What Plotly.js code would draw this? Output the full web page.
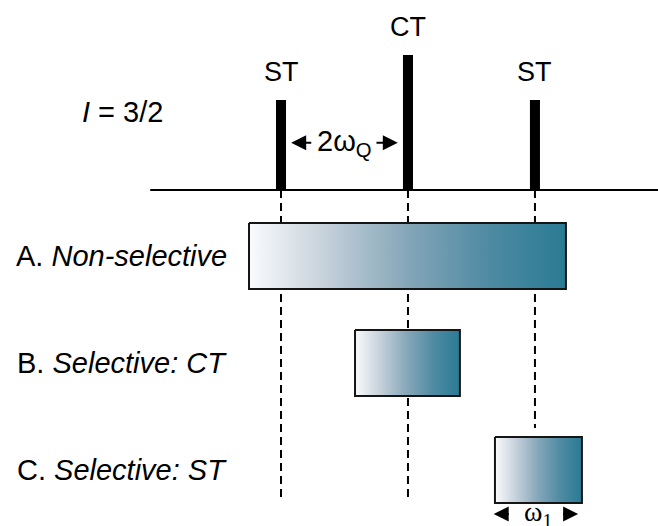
<!DOCTYPE html>
<html>
<head>
<meta charset="utf-8">
<script src="https://cdn.plot.ly/plotly-3.0.1.min.js"></script>
<style>html,body{margin:0;padding:0;background:#fff;}#chart{width:658px;height:526px;}</style>
</head>
<body>
<div id="chart"></div>
<script>
// Spectrum of a spin I = 3/2 nucleus (x in units of 2ωQ offset from the CT)
const peakLabels = ['ST', 'CT', 'ST'];
const peakOffsets = [-1, 0, 1];
const peakIntensity = [0.667, 1, 0.667];
const spectrumSpan = [-2.03, 1.97];

// Excitation bandwidth of each pulse type
const pulseNames = ['A. <i>Non-selective</i>', 'B. <i>Selective: CT</i>', 'C. <i>Selective: ST</i>'];
const pulseStart = [-1.252, -0.417, 0.685];
const pulseEnd = [1.244, 0.409, 1.370];
const pulseTop = [-0.244, -1.037, -1.830];
const pulseBottom = [-0.733, -1.526, -2.319];

// How far each dashed guide line reaches down
const guideEnd = [-2.274, -2.274, -1.763];

const spinLabel = '<i>I</i> = 3/2';
const quadLabel = '2ω<sub>Q</sub>';
const rfLabel = 'ω<sub>1</sub>';

const FONT = 'Liberation Sans, Arial, sans-serif';
const gradient = [[0, '#fafbfd'], [0.25, '#c3cfd9'], [0.5, '#85a6b8'], [0.75, '#4f8ba3'], [1, '#2a7a94']];

const traces = [];

// peaks
traces.push({
  type: 'bar', x: peakOffsets, y: peakIntensity, base: 0, width: 0.079,
  marker: {color: '#000', line: {width: 0}}, hoverinfo: 'skip'
});

// baseline
traces.push({
  type: 'scatter', mode: 'lines', x: spectrumSpan, y: [0, 0],
  line: {color: '#000', width: 2}, hoverinfo: 'skip'
});

// dashed guide lines
peakOffsets.forEach((p, i) => {
  traces.push({
    type: 'scatter', mode: 'lines', x: [p, p], y: [0, guideEnd[i]],
    line: {color: '#000', width: 2, dash: '8px,5px'}, hoverinfo: 'skip'
  });
});

// pulse excitation boxes
pulseNames.forEach((n, i) => {
  const x0 = pulseStart[i], x1 = pulseEnd[i], t = pulseTop[i], b = pulseBottom[i];
  traces.push({
    type: 'scatter', mode: 'lines', fill: 'toself',
    x: [x0, x1, x1, x0, x0], y: [t, t, b, b, t],
    fillgradient: {type: 'horizontal', colorscale: gradient, start: x0, stop: x1},
    line: {color: '#151515', width: 2}, hoverinfo: 'skip'
  });
});

const annotations = [];
// peak labels
peakOffsets.forEach((p, i) => {
  annotations.push({
    x: p, y: peakIntensity[i], yshift: 11, xanchor: 'center', yanchor: 'bottom',
    text: peakLabels[i], showarrow: false, font: {family: FONT, size: 27, color: '#000'}
  });
});
// row labels
pulseNames.forEach((n, i) => {
  annotations.push({
    x: pulseStart[0], xshift: -20, y: (pulseTop[i] + pulseBottom[i]) / 2,
    xanchor: 'right', yanchor: 'middle', text: n, showarrow: false,
    font: {family: FONT, size: 29, color: '#000'}
  });
});
// spin label
annotations.push({
  xref: 'paper', yref: 'paper', x: 0.186, y: 0.787, xanchor: 'center', yanchor: 'middle',
  text: spinLabel, showarrow: false, font: {family: FONT, size: 29, color: '#000'}
});
// 2ωQ label with arrows
const qy = 0.35;
annotations.push({
  x: (peakOffsets[0] + peakOffsets[1]) / 2, y: qy, xanchor: 'center', yanchor: 'middle',
  text: quadLabel, showarrow: false, font: {family: FONT, size: 29, color: '#000'}
});
const arrowStyle = {axref: 'x', ayref: 'y', text: '', showarrow: true,
  arrowhead: 2, arrowsize: 1.5, arrowwidth: 2, arrowcolor: '#000', standoff: 0, startstandoff: 0};
annotations.push(Object.assign({x: -0.92, y: qy, ax: -0.75, ay: qy}, arrowStyle));
annotations.push(Object.assign({x: -0.08, y: qy, ax: -0.26, ay: qy}, arrowStyle));
// ω1 label with arrows
const ry = -2.40;
const cC = (pulseStart[2] + pulseEnd[2]) / 2;
annotations.push({
  x: cC, y: ry, xanchor: 'center', yanchor: 'middle',
  text: rfLabel, showarrow: false, font: {family: 'Liberation Serif, Times New Roman, serif', size: 28, color: '#000'}
});
annotations.push(Object.assign({x: pulseStart[2] - 0.01, y: ry, ax: pulseStart[2] + 0.12}, arrowStyle, {ay: ry}));
annotations.push(Object.assign({x: pulseEnd[2] - 0.03, y: ry, ax: pulseEnd[2] - 0.16}, arrowStyle, {ay: ry}));

const layout = {
  width: 658, height: 526,
  margin: {l: 0, r: 0, t: 0, b: 0},
  paper_bgcolor: '#fff', plot_bgcolor: '#fff',
  showlegend: false,
  xaxis: {range: [-3.213, 1.969], visible: false, fixedrange: true},
  yaxis: {range: [-2.489, 1.407], visible: false, fixedrange: true},
  annotations: annotations,
  font: {family: FONT}
};

Plotly.newPlot('chart', traces, layout, {displayModeBar: false, staticPlot: true});
</script>
</body>
</html>
